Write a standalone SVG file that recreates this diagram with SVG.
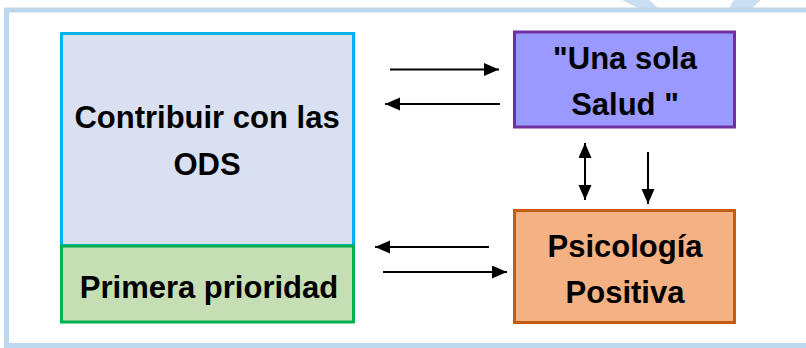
<svg xmlns="http://www.w3.org/2000/svg" width="806" height="348" viewBox="0 0 806 348">
<style>
.t{font-family:"Liberation Sans",Arial,sans-serif;font-weight:bold;font-size:31px;fill:#000;text-anchor:middle}
.c{stroke:#000;stroke-width:2;fill:none}
</style>
<defs>
<marker id="ah" markerUnits="userSpaceOnUse" markerWidth="16" markerHeight="14" refX="15" refY="6.5" orient="auto-start-reverse">
<path d="M0,0 L15,6.5 L0,13 z" fill="#000"/>
</marker>
</defs>
<rect width="806" height="348" fill="#fff"/>
<g id="watermark" fill="#C9DFF1">
<path d="M622,0 L649,0 L658,8 L638,8 z"/>
<path d="M734,0 L761,0 L752,8 L729,8 z"/>
</g>
<rect id="frame" x="6.5" y="10" width="820" height="335.5" fill="none" stroke="#BDD7EE" stroke-width="5"/>
<g id="ods">
<rect x="61.5" y="33.5" width="292" height="212" fill="#D9E0F1" stroke="#00B0F0" stroke-width="3"/>
<text class="t" x="207" y="128">Contribuir con las</text>
<text class="t" x="207" y="175">ODS</text>
</g>
<g id="prioridad">
<rect x="61.5" y="246" width="292" height="76" fill="#C6DEB4" stroke="#00B050" stroke-width="3"/>
<text class="t" x="209" y="298">Primera prioridad</text>
</g>
<g id="salud">
<rect x="514.5" y="32" width="220" height="95" fill="#9999FF" stroke="#7030A0" stroke-width="3"/>
<text class="t" x="625" y="69">"Una sola</text>
<text class="t" x="625" y="115">Salud "</text>
</g>
<g id="psicologia">
<rect x="514.5" y="210.5" width="220" height="112" fill="#F4B183" stroke="#C55A11" stroke-width="3"/>
<text class="t" x="625" y="257">Psicología</text>
<text class="t" x="625" y="303">Positiva</text>
</g>
<g id="connectors">
<line class="c" x1="390" y1="69.5" x2="499" y2="69.5" marker-end="url(#ah)"/>
<line class="c" x1="500" y1="104" x2="385" y2="104" marker-end="url(#ah)"/>
<line class="c" x1="585" y1="143" x2="585" y2="200" marker-start="url(#ah)" marker-end="url(#ah)"/>
<line class="c" x1="648" y1="152" x2="648" y2="204" marker-end="url(#ah)"/>
<line class="c" x1="489" y1="247" x2="375" y2="247" marker-end="url(#ah)"/>
<line class="c" x1="383" y1="272" x2="507" y2="272" marker-end="url(#ah)"/>
</g>
</svg>
